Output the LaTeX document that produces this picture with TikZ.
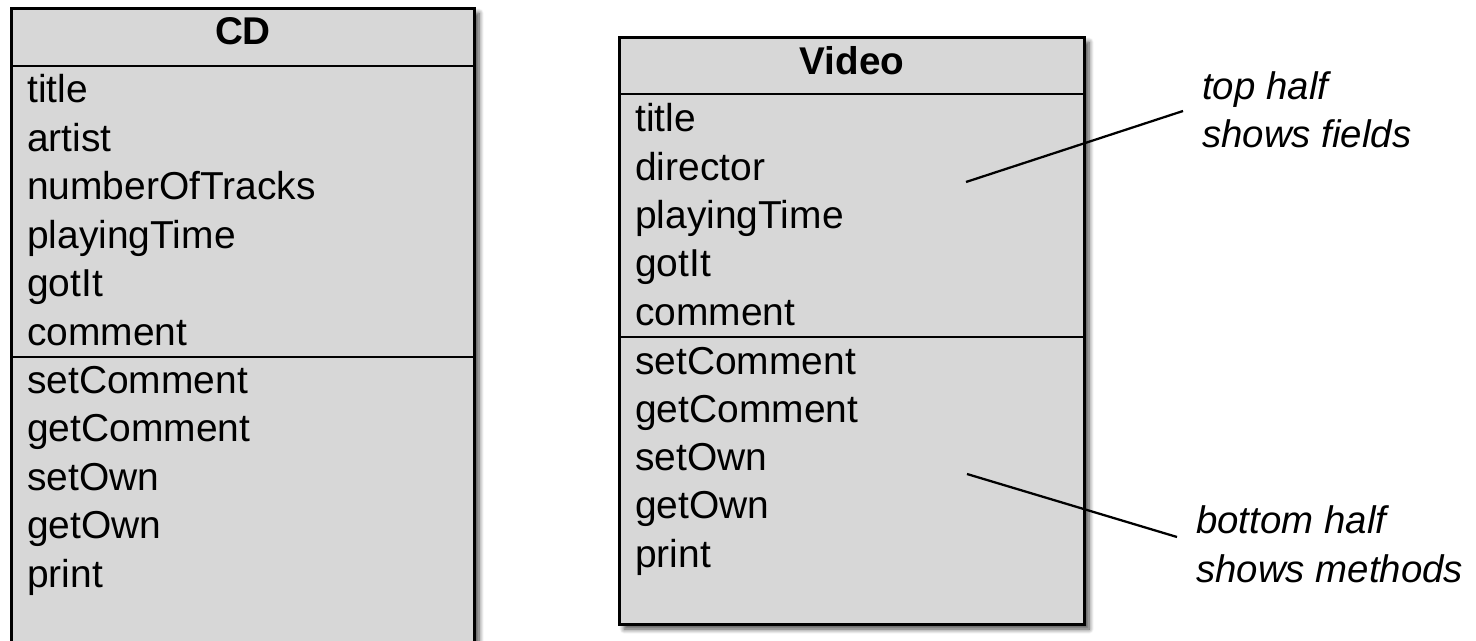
\documentclass[tikz,border=0pt]{standalone}
\usepackage{fontspec}
\setmainfont{Liberation Sans}
\usetikzlibrary{shadows.blur}
\definecolor{boxgray}{RGB}{215,215,215}
\tikzset{
  classbox/.style={draw=black, line width=2.2pt, fill=boxgray, inner sep=0pt,
    anchor=north west,
    blur shadow={shadow xshift=3.5pt, shadow yshift=-3.5pt, shadow blur radius=3.5pt,
      shadow blur steps=8, shadow opacity=70}},
  divider/.style={line width=1.7pt},
  member/.style={anchor=base west, inner sep=0pt, font=\fontsize{29.2}{35}\selectfont},
  heading/.style={anchor=base, inner sep=0pt, font=\fontsize{29}{35}\selectfont\bfseries},
  note/.style={anchor=base west, inner sep=0pt, font=\fontsize{28.8}{35}\selectfont\itshape},
  pointer/.style={line width=1.7pt}
}
\begin{document}
\begin{tikzpicture}[x=0.75pt,y=-0.75pt]
\useasboundingbox (0,0) rectangle (1476,641);
\clip (0,0) rectangle (1476,641);

% CD class
\node[classbox, minimum width=347.25pt, minimum height=504.75pt] (cd) at (10,7) {};
\draw[divider] (cd.west |- 0,66) -- (cd.east |- 0,66);
\draw[divider] (cd.west |- 0,357) -- (cd.east |- 0,357);
\node[heading] (cdname) at (cd.north |- 0,45) {CD};
\foreach \t [count=\i] in {title,artist,numberOfTracks,playingTime,gotIt,comment}
  \node[member] (cdf\i) at (27,{103+48.4*(\i-1)}) {\t};
\foreach \t [count=\i] in {setComment,getComment,setOwn,getOwn,print}
  \node[member] (cdm\i) at (27,{393+48.6*(\i-1)}) {\t};

% Video class
\node[classbox, minimum width=348.75pt, minimum height=440.25pt] (video) at (618,36) {};
\draw[divider] (video.west |- 0,94) -- (video.east |- 0,94);
\draw[divider] (video.west |- 0,337) -- (video.east |- 0,337);
\node[heading] (videoname) at (video.north |- 0,75) {Video};
\foreach \t [count=\i] in {title,director,playingTime,gotIt,comment}
  \node[member] (vf\i) at (635,{132+48.3*(\i-1)}) {\t};
\foreach \t [count=\i] in {setComment,getComment,setOwn,getOwn,print}
  \node[member] (vm\i) at (635,{374+48.3*(\i-1)}) {\t};

% annotations
\node[note] (topnote1) at (1202,100) {top half};
\node[note] (topnote2) at (1202,148) {shows fields};
\node[note] (botnote1) at (1196,533) {bottom half};
\node[note] (botnote2) at (1196,582) {shows methods};

\coordinate (fieldsin) at (966,182);
\coordinate (fieldsout) at (1183,111);
\coordinate (methodsin) at (967,474);
\coordinate (methodsout) at (1177,537);
\draw[pointer] (fieldsin) -- (fieldsout);
\draw[pointer] (methodsin) -- (methodsout);
\end{tikzpicture}
\end{document}
